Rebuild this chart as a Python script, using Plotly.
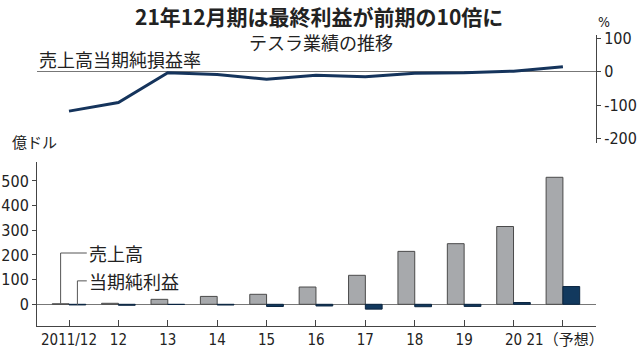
import plotly.graph_objects as go

# ---- data ----
years = ["2011/12", "12", "13", "14", "15", "16", "17", "18", "19", "20", "\u00a021（予想）"]
revenue = [2.0, 4.1, 20.1, 32.0, 40.5, 70.0, 117.6, 214.6, 245.8, 315.4, 515.0]      # 億ドル
net_income = [-2.5, -4.0, -0.7, -2.9, -8.9, -6.8, -19.6, -9.8, -8.6, 7.2, 72.0]       # 億ドル
margin = [-118, -92, -3, -8, -22, -10, -15, -4, -3, 2, 15]                             # %
bar_ticks = [0, 100, 200, 300, 400, 500]
pct_ticks = [100, 0, -100, -200]

x = list(range(len(years)))
FONT_NUM = "Liberation Sans Narrow, DejaVu Sans Condensed, Roboto, sans-serif"
FONT_JP = "Noto Sans CJK JP, sans-serif"
TXT = "#222222"

W, H = 638, 357
L, R, T, B = 37, 596, 35, 326  # plot area in pixels


def px(xp):
    return (xp - L) / (R - L)


def py(yp):
    return (B - yp) / (B - T)


fig = go.Figure()

fig.add_trace(go.Bar(x=x, y=revenue, name="売上高",
                     marker=dict(color="#a7a9ac", line=dict(color="#4a4a4a", width=1)),
                     xaxis="x", yaxis="y"))
fig.add_trace(go.Bar(x=x, y=net_income, name="当期純利益",
                     marker=dict(color="#12395e", line=dict(color="#0b2540", width=1)),
                     xaxis="x", yaxis="y"))
fig.add_trace(go.Scatter(x=x, y=margin, mode="lines", line=dict(color="#15345c", width=3),
                         xaxis="x2", yaxis="y2"))

xr = [-0.648, 10.67]

fig.update_layout(
    width=W, height=H,
    margin=dict(l=L, r=W - R, t=T, b=H - B, autoexpand=False),
    paper_bgcolor="white", plot_bgcolor="white",
    showlegend=False,
    barmode="group", bargap=0.32, bargroupgap=0,
    xaxis=dict(domain=[0, 1], range=xr, tickmode="array", tickvals=x, ticktext=years, tickangle=0,
               showline=True, linecolor="#444", linewidth=1, ticks="inside", ticklen=6, tickcolor="#444",
               showgrid=False, zeroline=False, anchor="y", automargin=False,
               tickfont=dict(family=FONT_NUM + ", " + FONT_JP, size=15, color=TXT)),
    yaxis=dict(domain=[0, py(162)], range=[-88, 577], tickmode="array", tickvals=bar_ticks,
               showline=True, linecolor="#444", linewidth=1, ticks="outside", ticklen=4, tickcolor="#444",
               showgrid=False, zeroline=True, zerolinecolor="#777", zerolinewidth=1, anchor="x", automargin=False,
               tickfont=dict(family=FONT_NUM, size=16, color=TXT)),
    xaxis2=dict(domain=[0, 1], range=xr, visible=False, anchor="y2"),
    yaxis2=dict(domain=[py(143.4), py(35.2)], range=[-215, 110], side="right", anchor="x2",
                tickmode="array", tickvals=pct_ticks, ticktext=[str(v) for v in pct_ticks],
                showline=True, linecolor="#444", linewidth=1, ticks="outside", ticklen=4, tickcolor="#444",
                showgrid=False, zeroline=True, zerolinecolor="#777", zerolinewidth=1, automargin=False,
                tickfont=dict(family=FONT_NUM, size=16, color=TXT)),
    yaxis3=dict(overlaying="y2", range=[-215, 110], side="right", anchor="x2", automargin=False,
                tickmode="array", tickvals=pct_ticks, showticklabels=False,
                ticks="inside", ticklen=4, tickcolor="#444", showgrid=False, zeroline=False, showline=False),
)

ann = [
    dict(text="<b>21年12月期は最終利益が前期の10倍に</b>", x=px(319), y=py(16), font=dict(size=21, family=FONT_JP, color=TXT)),
    dict(text="テスラ業績の推移", x=px(321), y=py(42), font=dict(size=18, family=FONT_JP, color=TXT)),
    dict(text="売上高当期純損益率", x=px(37), y=py(59), xanchor="left", font=dict(size=18, family=FONT_JP, color=TXT)),
    dict(text="%", x=px(604), y=py(22), font=dict(size=14, family=FONT_NUM, color=TXT)),
    dict(text="億ドル", x=px(10), y=py(141), xanchor="left", font=dict(size=15, family=FONT_JP, color=TXT)),
]
for a in ann:
    a.update(xref="paper", yref="paper", showarrow=False, yanchor="middle")
    a.setdefault("xanchor", "center")
    fig.add_annotation(**a)

fig.add_annotation(text="売上高", x=0.37, y=208, xref="x", yref="y", xanchor="left", showarrow=False,
                   font=dict(size=18, family=FONT_JP, color=TXT))
fig.add_annotation(text="当期純利益", x=0.37, y=95, xref="x", yref="y", xanchor="left", showarrow=False,
                   font=dict(size=18, family=FONT_JP, color=TXT))
lc = dict(color="#555", width=1)
fig.add_shape(type="line", xref="x", yref="y", x0=-0.17, x1=-0.17, y0=3, y1=208, line=lc)
fig.add_shape(type="line", xref="x", yref="y", x0=-0.17, x1=0.36, y0=208, y1=208, line=lc)
fig.add_shape(type="line", xref="x", yref="y", x0=0.17, x1=0.17, y0=-3, y1=95, line=lc)
fig.add_shape(type="line", xref="x", yref="y", x0=0.17, x1=0.36, y0=95, y1=95, line=lc)

fig.write_html("out.html", config={"displayModeBar": False},
               post_script="document.body.style.margin='0';document.body.style.padding='0';document.body.style.overflow='hidden';")
